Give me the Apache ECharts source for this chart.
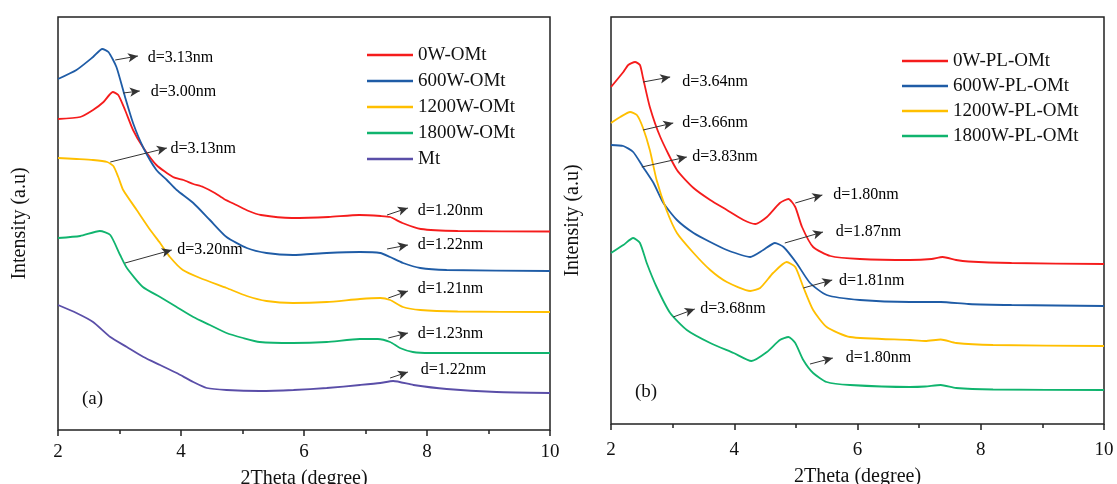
<!DOCTYPE html>
<html>
<head>
<meta charset="utf-8">
<script src="https://cdn.jsdelivr.net/npm/echarts@6/dist/echarts.min.js"></script>
<style>
  html, body { margin: 0; padding: 0; background: #fff; }
  #chart { width: 1117px; height: 484px; }
</style>
</head>
<body>
<div id="chart"></div>
<script>
// ---- panel (a): OMt samples, 2Theta vs intensity (a.u.) ----
const x0W = [2.0, 2.36, 2.57, 2.74, 2.89, 2.98, 3.09, 3.22, 3.39, 3.6, 3.87, 4.04, 4.2, 4.36, 4.55, 4.7, 4.9, 5.1, 5.3, 5.8, 6.4, 6.9, 7.25, 7.4, 7.6, 7.9, 8.5, 10]
const y0W = [311, 313, 320, 328, 338, 335, 320, 300, 282, 265, 253, 250, 246, 243, 237, 231, 225, 219, 215, 212, 213, 215, 214, 213, 207, 201, 199, 198.5]

const x600W = [2.0, 2.3, 2.57, 2.72, 2.82, 2.95, 3.09, 3.22, 3.39, 3.6, 3.77, 3.93, 4.2, 4.47, 4.74, 5.07, 5.39, 5.82, 6.37, 6.91, 7.24, 7.4, 7.61, 7.89, 8.32, 10]
const y600W = [351, 360, 373, 381, 378, 363, 333, 307, 282, 260, 250, 240, 227, 210, 193, 182, 177, 175, 177, 178, 177, 173, 167, 162, 160, 159]

const x1200W = [2.0, 2.3, 2.57, 2.8, 2.9, 2.98, 3.06, 3.28, 3.5, 3.66, 3.82, 4.03, 4.31, 4.74, 5.07, 5.39, 5.82, 6.37, 6.91, 7.24, 7.4, 7.61, 7.89, 8.5, 10]
const y1200W = [272, 271, 270, 268, 264, 253, 240, 220, 200, 187, 173, 160, 152, 142, 134, 129, 127, 128, 131, 132, 130, 123, 120, 118.5, 118]

const x1800W = [2.0, 2.36, 2.68, 2.85, 3.01, 3.12, 3.38, 3.66, 3.93, 4.2, 4.47, 4.74, 5.01, 5.28, 5.82, 6.37, 6.91, 7.2, 7.4, 7.56, 7.77, 8.05, 10]
const y1800W = [192, 194, 199, 195, 175, 162, 143, 133, 123, 113, 105, 97, 92, 88, 87, 88, 91, 91, 88, 82, 78, 77, 77]

const xMt = [2.0, 2.3, 2.57, 2.85, 3.12, 3.39, 3.66, 3.93, 4.2, 4.42, 4.74, 5.28, 5.83, 6.37, 6.91, 7.24, 7.45, 7.78, 8.32, 9.13, 10]
const yMt = [125, 117, 108, 93, 83, 73, 65, 57, 48, 42, 40, 39, 40, 42, 45, 47, 49, 45, 41, 38, 37]

// ---- panel (b): PL-OMt samples ----
const xPL0 = [2.0, 2.2, 2.28, 2.39, 2.47, 2.52, 2.63, 2.8, 3.07, 3.34, 3.61, 3.88, 4.15, 4.34, 4.53, 4.74, 4.88, 4.99, 5.1, 5.28, 5.56, 6.04, 6.85, 7.2, 7.38, 7.6, 7.8, 8.5, 10]
const yPL0 = [337, 352, 359, 362, 359, 346, 317, 287, 254, 236, 224, 214, 204, 200, 207, 221, 225, 217, 197, 177, 168, 165, 164, 165, 167, 164, 162.5, 161, 160]

const xPL600 = [2.0, 2.2, 2.36, 2.52, 2.69, 2.85, 3.07, 3.34, 3.61, 3.88, 4.26, 4.47, 4.66, 4.8, 5.01, 5.23, 5.5, 6.04, 6.85, 7.35, 7.8, 8.5, 10]
const yPL600 = [279, 278, 272, 257, 241, 221, 204, 191, 182, 174, 167, 174, 181, 177, 161, 141, 129, 124, 122, 122, 120, 119, 118]

const xPL1200 = [2.0, 2.15, 2.31, 2.42, 2.52, 2.63, 2.74, 2.9, 3.07, 3.34, 3.61, 3.88, 4.26, 4.42, 4.63, 4.85, 4.99, 5.12, 5.28, 5.5, 5.88, 6.85, 7.1, 7.35, 7.6, 8.2, 10]
const yPL1200 = [301, 307, 312, 309, 296, 274, 244, 214, 191, 171, 154, 142, 133, 136, 151, 162, 157, 137, 114, 97, 87, 84, 83, 84.5, 81, 79, 78]

const xPL1800 = [2.0, 2.2, 2.36, 2.47, 2.58, 2.74, 2.96, 3.23, 3.61, 3.99, 4.28, 4.53, 4.74, 4.88, 4.99, 5.12, 5.28, 5.5, 5.88, 6.85, 7.1, 7.35, 7.6, 8.2, 10]
const yPL1800 = [171, 179, 186, 181, 161, 137, 111, 94, 81, 71, 63, 72, 84, 87, 81, 64, 51, 42, 39, 37, 37.5, 39, 36, 34.5, 34]

const xTicks = [2, 4, 6, 8, 10]

// d-spacing notes: text, arrow tail, arrow head, text anchor (data units)
const notesA = [
  ['d=3.13nm', [2.93, 370], [3.30, 374], [3.45, 372]],
  ['d=3.00nm', [3.06, 337], [3.33, 339], [3.50, 338]],
  ['d=3.13nm', [2.85, 268], [3.77, 282], [3.82, 281]],
  ['d=3.20nm', [3.09, 167], [3.85, 180], [3.93, 180]],
  ['d=1.20nm', [7.35, 215], [7.69, 222], [7.84, 219]],
  ['d=1.22nm', [7.35, 181], [7.69, 185], [7.84, 185]],
  ['d=1.21nm', [7.37, 132], [7.69, 139], [7.84, 141]],
  ['d=1.23nm', [7.37, 92], [7.69, 97], [7.84, 96]],
  ['d=1.22nm', [7.40, 52], [7.69, 58], [7.89, 60]]
]
const notesB = [
  ['d=3.64nm', [2.52, 342], [2.96, 347], [3.15, 342]],
  ['d=3.66nm', [2.52, 294], [3.01, 301], [3.15, 301]],
  ['d=3.83nm', [2.50, 257], [3.23, 267], [3.31, 267]],
  ['d=1.80nm', [4.99, 221], [5.43, 229], [5.60, 229]],
  ['d=1.87nm', [4.82, 181], [5.44, 192], [5.64, 192]],
  ['d=1.81nm', [5.12, 136], [5.59, 144], [5.69, 143]],
  ['d=3.68nm', [3.01, 107], [3.36, 115], [3.44, 115]],
  ['d=1.80nm', [5.23, 60], [5.60, 66], [5.80, 66]]
]

const FONT = 'Liberation Serif, Times New Roman, serif'
const zip = (xs, ys) => xs.map((x, i) => [x, ys[i]])

const seriesA = [
  { name: '0W-OMt', x: x0W, y: y0W, color: '#f51c1c' },
  { name: '600W-OMt', x: x600W, y: y600W, color: '#1f5ca6' },
  { name: '1200W-OMt', x: x1200W, y: y1200W, color: '#ffbf00' },
  { name: '1800W-OMt', x: x1800W, y: y1800W, color: '#10b46e' },
  { name: 'Mt', x: xMt, y: yMt, color: '#5a4ea8' }
]
const seriesB = [
  { name: '0W-PL-OMt', x: xPL0, y: yPL0, color: '#f51c1c' },
  { name: '600W-PL-OMt', x: xPL600, y: yPL600, color: '#1f5ca6' },
  { name: '1200W-PL-OMt', x: xPL1200, y: yPL1200, color: '#ffbf00' },
  { name: '1800W-PL-OMt', x: xPL1800, y: yPL1800, color: '#10b46e' }
]

function lineSeries(list, idx) {
  return list.map(s => ({
    name: s.name, type: 'line', xAxisIndex: idx, yAxisIndex: idx,
    data: zip(s.x, s.y), showSymbol: false, smooth: 0.2,
    lineStyle: { color: s.color, width: 1.8 }, itemStyle: { color: s.color },
    silent: true
  }))
}

function noteSeries(notes, idx) {
  return {
    type: 'scatter', xAxisIndex: idx, yAxisIndex: idx, symbolSize: 1, silent: true,
    itemStyle: { color: 'rgba(0,0,0,0)' },
    data: notes.map(n => ({ name: n[0], value: n[3] })),
    label: { show: true, position: 'right', distance: 0, formatter: '{b}',
      fontFamily: FONT, fontSize: 16, color: '#000', opacity: 1 },
    markLine: {
      silent: true, symbol: ['none', 'arrow'], symbolSize: [7, 10],
      lineStyle: { color: '#333', width: 1, type: 'solid', opacity: 1 },
      itemStyle: { color: '#000' },
      label: { show: false },
      data: notes.map(n => [{ coord: n[1] }, { coord: n[2] }])
    }
  }
}

function xAxis(idx, labelMargin, titleGap) {
  return {
    type: 'value', gridIndex: idx, min: 2, max: 10, interval: 2,
    name: '2Theta (degree)', nameLocation: 'middle', nameGap: titleGap,
    nameTextStyle: { fontFamily: FONT, fontSize: 20, color: '#111' },
    axisLine: { show: false },
    axisTick: { show: true, length: 6, lineStyle: { color: '#222', width: 1.5 } },
    minorTick: { show: true, splitNumber: 2, length: 4, lineStyle: { color: '#222', width: 1.5 } },
    axisLabel: { fontFamily: FONT, fontSize: 19, color: '#111', margin: labelMargin,
      formatter: v => xTicks.includes(v) ? String(v) : '' },
    splitLine: { show: false }
  }
}

function yAxis(idx, max) {
  return {
    type: 'value', gridIndex: idx, min: 0, max: max,
    name: 'Intensity (a.u)', nameLocation: 'middle', nameGap: 28,
    nameTextStyle: { fontFamily: FONT, fontSize: 20, color: '#111' },
    axisLine: { show: false }, axisTick: { show: false }, axisLabel: { show: false },
    splitLine: { show: false }
  }
}

const legendBase = {
  orient: 'vertical', icon: 'rect', itemWidth: 46, itemHeight: 2.5, padding: 0,
  textStyle: { fontFamily: FONT, fontSize: 19, color: '#111', lineHeight: 20 },
  selectedMode: false
}

const chart = echarts.init(document.getElementById('chart'))
chart.setOption({
  animation: false,
  backgroundColor: '#fff',
  grid: [
    { left: 58, top: 17, width: 492, height: 413, show: true, borderColor: '#222', borderWidth: 1.5, outerBoundsMode: 'none' },
    { left: 611, top: 17, width: 493, height: 407, show: true, borderColor: '#222', borderWidth: 1.5, outerBoundsMode: 'none' }
  ],
  xAxis: [xAxis(0, 13, 39), xAxis(1, 17, 43)],
  yAxis: [yAxis(0, 413), yAxis(1, 407)],
  legend: [
    Object.assign({}, legendBase, { left: 367, top: 45, itemGap: 6, data: seriesA.map(s => s.name) }),
    Object.assign({}, legendBase, { left: 902, top: 51, itemGap: 5, data: seriesB.map(s => s.name) })
  ],
  graphic: [
    { type: 'text', left: 82, top: 390, style: { text: '(a)', fontFamily: FONT, fontSize: 19, fill: '#111' } },
    { type: 'text', left: 635, top: 383, style: { text: '(b)', fontFamily: FONT, fontSize: 19, fill: '#111' } }
  ],
  series: [
    ...lineSeries(seriesA, 0),
    ...lineSeries(seriesB, 1),
    noteSeries(notesA, 0),
    noteSeries(notesB, 1)
  ]
})
</script>
</body>
</html>
